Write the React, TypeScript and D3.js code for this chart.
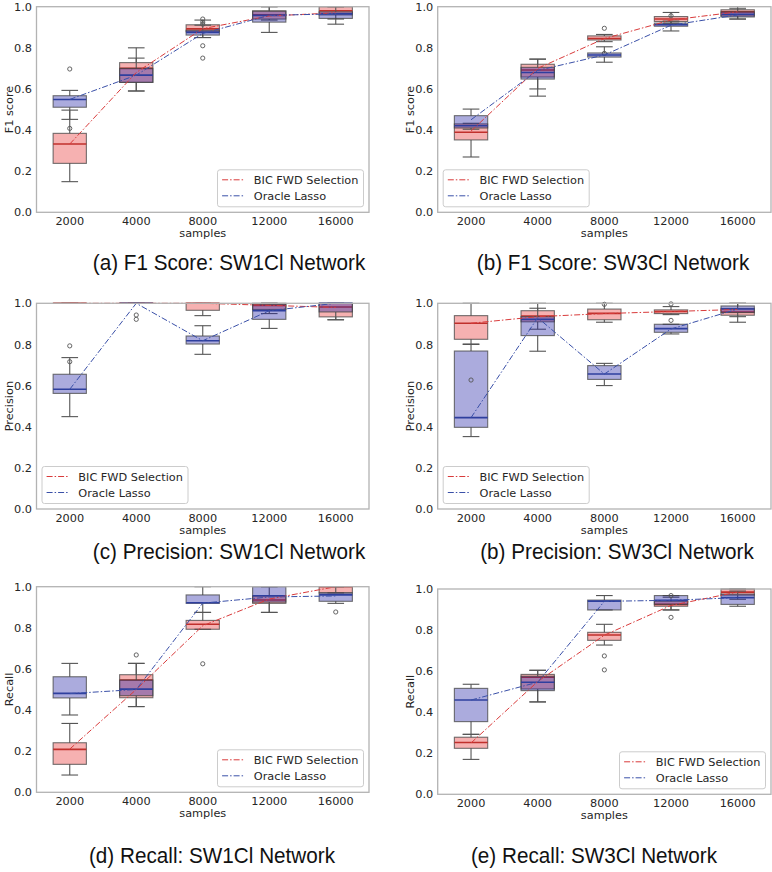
import React from "react";
import * as d3 from "d3";

// ---------- data ----------
const samples = ["2000", "4000", "8000", "12000", "16000"];
const yTicks = [0, 0.2, 0.4, 0.6, 0.8, 1.0];
const seriesNames = ["BIC FWD Selection", "Oracle Lasso"];

// each box: [low whisker, q1, median, q3, high whisker]
// (a) F1 score SW1Cl
const f1Sw1Bic = [
  [0.149, 0.238, 0.332, 0.384, 0.497],
  [0.59, 0.632, 0.7, 0.728, 0.8],
  [0.85, 0.878, 0.892, 0.912, 0.935],
  [0.935, 0.94, 0.96, 0.98, 1.0],
  [0.94, 0.96, 0.98, 1.0, 1.0],
];
const f1Sw1Lasso = [
  [0.452, 0.511, 0.549, 0.567, 0.593],
  [0.59, 0.632, 0.667, 0.7, 0.75],
  [0.85, 0.862, 0.875, 0.885, 0.91],
  [0.875, 0.925, 0.958, 0.978, 1.0],
  [0.915, 0.943, 0.965, 0.975, 1.0],
];
const f1Sw1BicOut = [[], [], [0.81, 0.75], [], []];
const f1Sw1LassoOut = [[0.697, 0.408], [], [0.94, 0.925, 0.915], [], []];
const f1Sw1BicLine = [0.332, 0.68, 0.893, 0.955, 0.97];
const f1Sw1LassoLine = [0.549, 0.667, 0.87, 0.958, 0.965];

// (b) F1 score SW3Cl
const f1Sw3Bic = [
  [0.269, 0.352, 0.389, 0.43, 0.433],
  [0.6, 0.658, 0.692, 0.72, 0.745],
  [0.83, 0.838, 0.845, 0.858, 0.865],
  [0.92, 0.928, 0.94, 0.952, 0.972],
  [0.94, 0.955, 0.975, 0.985, 1.0],
];
const f1Sw3Lasso = [
  [0.404, 0.41, 0.421, 0.47, 0.502],
  [0.565, 0.648, 0.68, 0.705, 0.745],
  [0.73, 0.755, 0.765, 0.775, 0.805],
  [0.882, 0.905, 0.912, 0.92, 0.93],
  [0.94, 0.95, 0.963, 0.975, 0.99],
];
const f1Sw3BicOut = [[], [], [0.895, 0.773], [], []];
const f1Sw3LassoOut = [[], [], [], [0.956], []];
const f1Sw3BicLine = [0.395, 0.7, 0.845, 0.935, 0.975];
const f1Sw3LassoLine = [0.45, 0.69, 0.765, 0.91, 0.96];

// (c) Precision SW1Cl
const precSw1Bic = [
  [1, 1, 1, 1, 1],
  [1, 1, 1, 1, 1],
  [0.94, 0.966, 1.0, 1.0, 1.0],
  [0.95, 0.97, 0.99, 1.0, 1.0],
  [0.92, 0.934, 0.982, 1.0, 1.0],
];
const precSw1Lasso = [
  [0.449, 0.562, 0.582, 0.655, 0.736],
  [1, 1, 1, 1, 1],
  [0.752, 0.802, 0.818, 0.841, 0.891],
  [0.878, 0.922, 0.964, 0.995, 1.0],
  [0.92, 0.958, 1.0, 1.0, 1.0],
];
const precSw1BicOut = [[], [], [], [], []];
const precSw1LassoOut = [[0.793, 0.716], [0.943, 0.922], [], [], []];
const precSw1BicLine = [1, 1, 1, 0.99, 0.98];
const precSw1LassoLine = [0.582, 1.0, 0.818, 0.964, 1.0];

// (b) Precision SW3Cl
const precSw3Bic = [
  [0.802, 0.825, 0.903, 0.94, 1.0],
  [0.874, 0.91, 0.938, 0.964, 1.0],
  [0.908, 0.92, 0.951, 0.972, 1.0],
  [0.945, 0.95, 0.96, 0.968, 0.984],
  [0.908, 0.942, 0.958, 0.975, 1.0],
];
const precSw3Lasso = [
  [0.352, 0.397, 0.444, 0.768, 0.8],
  [0.767, 0.843, 0.922, 0.935, 0.976],
  [0.6, 0.63, 0.656, 0.697, 0.708],
  [0.851, 0.859, 0.877, 0.898, 0.898],
  [0.935, 0.955, 0.972, 0.987, 1.0],
];
const precSw3BicOut = [[], [], [0.995], [0.997], []];
const precSw3LassoOut = [[0.627], [], [], [0.917], []];
const precSw3BicLine = [0.903, 0.935, 0.95, 0.96, 0.97];
const precSw3LassoLine = [0.444, 0.93, 0.656, 0.875, 0.972];

// (d) Recall SW1Cl
const recSw1Bic = [
  [0.084, 0.136, 0.209, 0.241, 0.335],
  [0.417, 0.46, 0.546, 0.572, 0.627],
  [0.793, 0.793, 0.817, 0.836, 0.875],
  [0.875, 0.919, 0.935, 0.955, 1.0],
  [0.97, 0.97, 1.0, 1.0, 1.0],
];
const recSw1Lasso = [
  [0.376, 0.459, 0.481, 0.562, 0.627],
  [0.417, 0.47, 0.502, 0.546, 0.627],
  [0.875, 0.919, 0.922, 0.96, 1.0],
  [0.875, 0.925, 0.956, 1.0, 1.0],
  [0.919, 0.929, 0.96, 0.97, 1.0],
];
const recSw1BicOut = [[], [0.668], [0.625], [], []];
const recSw1LassoOut = [[], [], [], [], [0.877]];
const recSw1BicLine = [0.21, 0.5, 0.81, 0.94, 1.0];
const recSw1LassoLine = [0.48, 0.5, 0.92, 0.95, 0.955];

// (e) Recall SW3Cl
const recSw3Bic = [
  [0.17, 0.224, 0.252, 0.278, 0.292],
  [0.45, 0.513, 0.57, 0.584, 0.604],
  [0.727, 0.75, 0.776, 0.789, 0.828],
  [0.898, 0.916, 0.925, 0.94, 0.96],
  [0.95, 0.97, 0.985, 1.0, 1.0],
];
const recSw3Lasso = [
  [0.292, 0.354, 0.459, 0.516, 0.536],
  [0.45, 0.505, 0.546, 0.575, 0.604],
  [0.898, 0.898, 0.941, 0.946, 0.968],
  [0.898, 0.925, 0.945, 0.968, 0.968],
  [0.916, 0.925, 0.958, 0.975, 0.99],
];
const recSw3BicOut = [[], [], [0.674, 0.606], [], []];
const recSw3LassoOut = [[], [], [], [0.862, 0.968], []];
const recSw3BicLine = [0.25, 0.549, 0.775, 0.92, 0.985];
const recSw3LassoLine = [0.459, 0.546, 0.94, 0.945, 0.958];

// ---------- layout / style ----------
const W = 772;
const H = 872;
const FONT = "'DejaVu Sans', sans-serif";
const CAP_FONT = "'Liberation Sans', Arial, sans-serif";

const RED = { fill: "rgb(230,40,40)", fillOpacity: 0.36, median: "#c0302c", line: "#d93b3b" };
const BLUE = { fill: "rgb(35,35,165)", fillOpacity: 0.38, median: "#2e3f9e", line: "#3a50a8" };

type Panel = {
  left: number; right: number; top: number; bottom: number;
  ylabel: string; caption: string; capX: number; capY: number;
  legend: "lr" | "ll";
  bic: number[][]; lasso: number[][];
  bicOut: number[][]; lassoOut: number[][];
  bicLine: number[]; lassoLine: number[];
};

const panels: Panel[] = [
  { left: 36.5, right: 369, top: 6.7, bottom: 212.3, ylabel: "F1 score",
    caption: "(a) F1 Score: SW1Cl Network", capX: 229, capY: 270, legend: "lr",
    bic: f1Sw1Bic, lasso: f1Sw1Lasso, bicOut: f1Sw1BicOut, lassoOut: f1Sw1LassoOut,
    bicLine: f1Sw1BicLine, lassoLine: f1Sw1LassoLine },
  { left: 437.7, right: 771, top: 6.7, bottom: 212.3, ylabel: "F1 score",
    caption: "(b) F1 Score: SW3Cl Network", capX: 613, capY: 270, legend: "ll",
    bic: f1Sw3Bic, lasso: f1Sw3Lasso, bicOut: f1Sw3BicOut, lassoOut: f1Sw3LassoOut,
    bicLine: f1Sw3BicLine, lassoLine: f1Sw3LassoLine },
  { left: 36.5, right: 369, top: 303.3, bottom: 509, ylabel: "Precision",
    caption: "(c) Precision: SW1Cl Network", capX: 229, capY: 559, legend: "ll",
    bic: precSw1Bic, lasso: precSw1Lasso, bicOut: precSw1BicOut, lassoOut: precSw1LassoOut,
    bicLine: precSw1BicLine, lassoLine: precSw1LassoLine },
  { left: 437.7, right: 771, top: 303.3, bottom: 509, ylabel: "Precision",
    caption: "(b) Precision: SW3Cl Network", capX: 617, capY: 559, legend: "ll",
    bic: precSw3Bic, lasso: precSw3Lasso, bicOut: precSw3BicOut, lassoOut: precSw3LassoOut,
    bicLine: precSw3BicLine, lassoLine: precSw3LassoLine },
  { left: 36.5, right: 369, top: 586.7, bottom: 792.3, ylabel: "Recall",
    caption: "(d) Recall: SW1Cl Network", capX: 212, capY: 863, legend: "lr",
    bic: recSw1Bic, lasso: recSw1Lasso, bicOut: recSw1BicOut, lassoOut: recSw1LassoOut,
    bicLine: recSw1BicLine, lassoLine: recSw1LassoLine },
  { left: 437.7, right: 771, top: 589, bottom: 794.3, ylabel: "Recall",
    caption: "(e) Recall: SW3Cl Network", capX: 594, capY: 863, legend: "lr",
    bic: recSw3Bic, lasso: recSw3Lasso, bicOut: recSw3BicOut, lassoOut: recSw3LassoOut,
    bicLine: recSw3BicLine, lassoLine: recSw3LassoLine },
];

function Boxes({ data, outs, x, y, half, color }: any) {
  return (
    <g>
      {data.map((b: number[], i: number) => {
        const cx = x(samples[i])! + x.bandwidth() / 2;
        const [lo, q1, med, q3, hi] = b;
        return (
          <g key={i}>
            <line x1={cx} x2={cx} y1={y(q1)} y2={y(lo)} stroke="#555" strokeWidth={1.1} />
            <line x1={cx} x2={cx} y1={y(q3)} y2={y(hi)} stroke="#555" strokeWidth={1.1} />
            <line x1={cx - half / 2} x2={cx + half / 2} y1={y(lo)} y2={y(lo)} stroke="#555" strokeWidth={1.1} />
            <line x1={cx - half / 2} x2={cx + half / 2} y1={y(hi)} y2={y(hi)} stroke="#555" strokeWidth={1.1} />
            <rect x={cx - half} width={half * 2} y={y(q3)} height={Math.max(0.01, y(q1) - y(q3))}
              fill={color.fill} fillOpacity={color.fillOpacity} stroke="#444" strokeOpacity={0.75} strokeWidth={1.1} />
            <line x1={cx - half} x2={cx + half} y1={y(med)} y2={y(med)} stroke={color.median} strokeWidth={1.6} />
            {outs[i].map((o: number, j: number) => (
              <circle key={j} cx={cx} cy={y(o)} r={2.1} fill="none" stroke="#555" strokeWidth={0.9} />
            ))}
          </g>
        );
      })}
    </g>
  );
}

function PanelView({ p }: { p: Panel }) {
  const x = d3.scaleBand<string>().domain(samples).range([p.left, p.right]).paddingInner(0).paddingOuter(0);
  const y = d3.scaleLinear().domain([0, 1]).range([p.bottom, p.top]);
  const half = x.bandwidth() * 0.25;
  const line = d3.line<number>()
    .x((_, i) => x(samples[i])! + x.bandwidth() / 2)
    .y((d) => y(d));
  const lw = 146, lh = 37;
  const lx = p.legend === "lr" ? p.right - 5.5 - lw : p.left + 5.5;
  const ly = p.bottom - 5.5 - lh;
  const midY = (p.top + p.bottom) / 2;
  return (
    <g>
      <Boxes data={p.bic} outs={p.bicOut} x={x} y={y} half={half} color={RED} />
      <Boxes data={p.lasso} outs={p.lassoOut} x={x} y={y} half={half} color={BLUE} />
      <path d={line(p.bicLine)!} fill="none" stroke={RED.line} strokeWidth={1} strokeDasharray="6,2,1.5,2" />
      <path d={line(p.lassoLine)!} fill="none" stroke={BLUE.line} strokeWidth={1} strokeDasharray="6,2,1.5,2" />
      <rect x={p.left} y={p.top} width={p.right - p.left} height={p.bottom - p.top}
        fill="none" stroke="#b3b3b3" strokeWidth={1.3} />
      {yTicks.map((t) => (
        <text key={t} x={p.left - 4.5} y={y(t)} dy="0.36em" textAnchor="end"
          fontFamily={FONT} fontSize={11.3} fill="#262626">{t.toFixed(1)}</text>
      ))}
      {samples.map((s) => (
        <text key={s} x={x(s)! + x.bandwidth() / 2} y={p.bottom + 12.8} textAnchor="middle"
          fontFamily={FONT} fontSize={11.3} fill="#262626">{s}</text>
      ))}
      <text x={(p.left + p.right) / 2} y={p.bottom + 24.8} textAnchor="middle"
        fontFamily={FONT} fontSize={11.3} fill="#262626">samples</text>
      <text transform={`translate(${p.left - 28},${midY}) rotate(-90)`} dy="0.36em" textAnchor="middle"
        fontFamily={FONT} fontSize={11.3} fill="#262626">{p.ylabel}</text>
      <g transform={`translate(${lx},${ly})`}>
        <rect width={lw} height={lh} rx={2.5} fill="white" fillOpacity={0.85} stroke="#cccccc" strokeWidth={1} />
        {seriesNames.map((n, i) => (
          <g key={n}>
            <line x1={4.6} x2={27.3} y1={10 + i * 16} y2={10 + i * 16}
              stroke={i === 0 ? RED.line : BLUE.line} strokeWidth={1} strokeDasharray="6,2,1.5,2" />
            <text x={36.3} y={10 + i * 16} dy="0.36em" fontFamily={FONT} fontSize={11.3} fill="#262626">{n}</text>
          </g>
        ))}
      </g>
      <text transform={`translate(${p.capX},${p.capY}) scale(0.92,1)`} textAnchor="middle"
        fontFamily={CAP_FONT} fontSize={22.5} fill="#111">{p.caption}</text>
    </g>
  );
}

export default function App() {
  return (
    <svg width={W} height={H} viewBox={`0 0 ${W} ${H}`}
      style={{ position: "absolute", left: 0, top: 0, background: "white" }}>
      <rect width={W} height={H} fill="white" />
      {panels.map((p, i) => <PanelView key={i} p={p} />)}
    </svg>
  );
}
